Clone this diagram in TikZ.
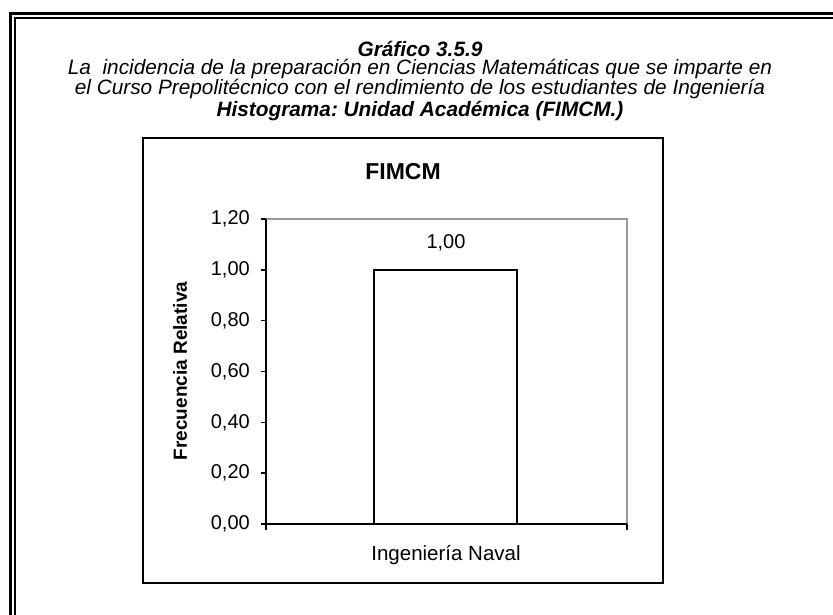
\documentclass[tikz,border=0pt]{standalone}
\usepackage{fontspec}
\setmainfont{Liberation Sans}
\usetikzlibrary{positioning}
\frenchspacing

\begin{document}
\begin{tikzpicture}[x=1pt,y=-1pt,
		ttl/.style={font=\fontsize{20.8}{23}\selectfont\itshape,inner sep=0pt},
		ticklbl/.style={font=\fontsize{20}{24}\selectfont,anchor=east,inner sep=0pt},
		axisline/.style={line width=1.4pt},
		framebox/.style={line width=1.2pt}]
		\useasboundingbox (0,0) rectangle (833,614);
		\clip (0,0) rectangle (833,614);

		% double frame round the page
		\draw[line width=3pt] (10,650) -- (10,13) -- (860,13);
		\draw[line width=2pt] (15,650) -- (15,18) -- (860,18);

		% titles
		\node[ttl,font=\fontsize{20.8}{23}\selectfont\bfseries\itshape] (gtitle) at (420,49) {Gráfico 3.5.9};
		\node[ttl] (gsub1) at (420,69) {La~ incidencia de la preparación en Ciencias Matemáticas que se imparte en};
		\node[ttl] (gsub2) at (420,89) {el Curso Prepolitécnico con el rendimiento de los estudiantes de Ingeniería};
		\node[ttl,font=\fontsize{20.8}{23}\selectfont\bfseries\itshape] (gsub3) at (420,111) {Histograma: Unidad Académica (FIMCM.)};

		% chart area
		\draw[framebox] (143,138) rectangle (663,583);
		\node[font=\fontsize{23}{26}\selectfont\bfseries] (ctitle) at (403,172) {FIMCM};

		% plot area
		\coordinate (o) at (266,524);
		\coordinate (tl) at (266,219);
		\coordinate (tr) at (627,219);
		\coordinate (br) at (627,524);
		\draw[gray!80,line width=1.2pt] (tl) -- (tr) -- (br);
		\draw[axisline] (tl) -- (o) -- (br);
		\foreach \v/\lbl in {0/{0,00},1/{0,20},2/{0,40},3/{0,60},4/{0,80},5/{1,00},6/{1,20}} {
			\draw[axisline] (261,524-50.83*\v) -- (266,524-50.83*\v);
			\node[ticklbl] (tk\v) at (250,524-50.83*\v) {\lbl};
		}
		\draw[axisline] (o) -- ++(0,6);
		\draw[axisline] (br) -- ++(0,6);

		% bar
		\draw[axisline,fill=white] (374,524) rectangle (517,270);
		\node[font=\fontsize{20}{24}\selectfont] (barval) at (446,243) {1,00};
		\node[font=\fontsize{20.5}{24}\selectfont] (cat) at (446,555) {Ingeniería Naval};
		\node[font=\fontsize{19}{22}\selectfont\bfseries,rotate=90] (ylbl) at (180,371) {Frecuencia Relativa};
	\end{tikzpicture}
\end{document}
